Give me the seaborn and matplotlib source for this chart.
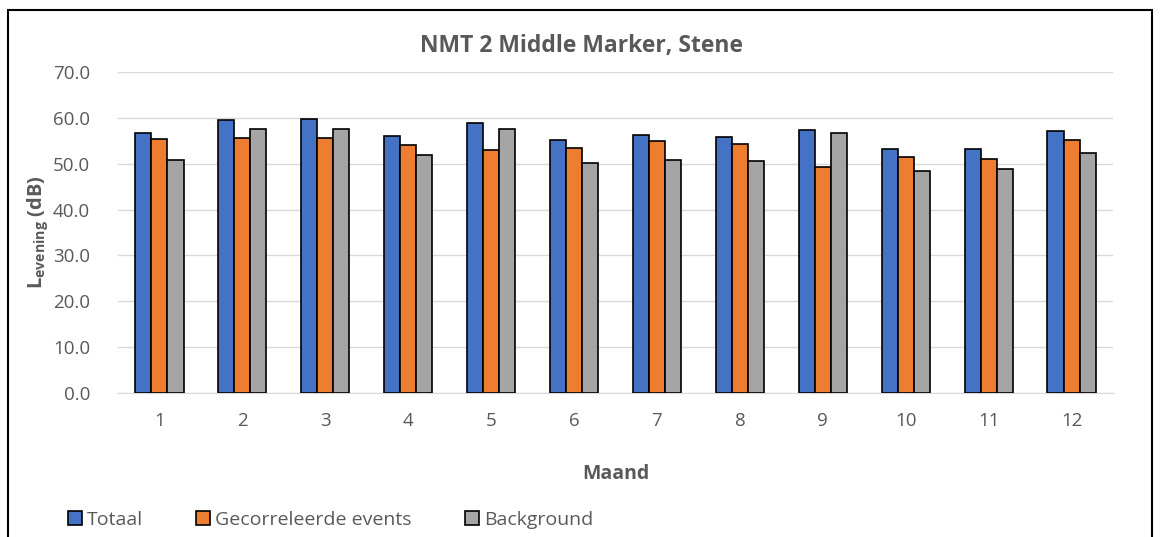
import matplotlib
matplotlib.use("Agg")
import matplotlib.pyplot as plt
from matplotlib.patches import Rectangle, Patch
import seaborn as sns
import pandas as pd

maanden = [str(m) for m in range(1, 13)]
totaal = [56.6, 59.6, 59.8, 56.1, 58.8, 55.2, 56.3, 55.9, 57.3, 53.3, 53.1, 57.1]
gecorreleerd = [55.3, 55.5, 55.7, 54.1, 53.0, 53.5, 55.0, 54.3, 49.3, 51.5, 51.1, 55.2]
background = [50.8, 57.6, 57.6, 51.9, 57.6, 50.2, 50.9, 50.5, 56.6, 48.5, 48.9, 52.4]
series_names = ["Totaal", "Gecorreleerde events", "Background"]
colors = ["#4472C4", "#ED7D31", "#A5A5A5"]

df = pd.DataFrame({
    "Maand": maanden * 3,
    "waarde": totaal + gecorreleerd + background,
    "serie": [s for s in series_names for _ in maanden],
})

sns.set_style("white")
font = "Open Sans"
plt.rcParams["font.family"] = [font, "DejaVu Sans"]
plt.rcParams["mathtext.fontset"] = "custom"
plt.rcParams["mathtext.rm"] = font
plt.rcParams["mathtext.bf"] = f"{font}:bold"
text_col = "#595959"

fig = plt.figure(figsize=(11.6, 5.37), dpi=100)
ax = fig.add_axes([118 / 1160, 1 - 393 / 537, (1113 - 118) / 1160, (393 - 72) / 537])

sns.barplot(data=df, x="Maand", y="waarde", hue="serie", palette=colors,
            saturation=1, edgecolor="black", linewidth=1.2, width=0.58, gap=0,
            ax=ax, legend=False, zorder=3)

ax.set_ylim(0, 70)
ax.set_yticks(range(0, 71, 10))
ax.set_yticklabels([f"{v:.1f}" for v in range(0, 71, 10)])
ax.grid(axis="y", color="#D9D9D9", linewidth=1, zorder=0)
ax.set_axisbelow(True)
for side in ["top", "right", "left"]:
    ax.spines[side].set_visible(False)
ax.spines["bottom"].set_color("#D9D9D9")
ax.tick_params(axis="both", length=0, labelsize=13.5, colors=text_col)
ax.tick_params(axis="x", pad=14)
ax.tick_params(axis="y", pad=20)

ax.set_xlabel("Maand", fontsize=14, fontweight="bold", color=text_col, labelpad=24)
ax.set_ylabel(r"$\mathbf{L_{evening}}$ (dB)", fontsize=14.5, fontweight="bold",
              color=text_col, labelpad=2)

fig.text(582 / 1160, 1 - 46 / 537, "NMT 2 Middle Marker, Stene", ha="center", va="center",
         fontsize=16.5, fontweight="bold", color=text_col)

handles = [Patch(facecolor=c, edgecolor="black", linewidth=1.2) for c in colors]
fig.legend(handles, series_names, loc="center left", bbox_to_anchor=(58 / 1160, 1 - 520 / 537),
           ncol=3, frameon=False, fontsize=14, labelcolor=text_col, handlelength=0.72,
           handleheight=0.72, handletextpad=0.25, columnspacing=2.75, borderpad=0)

fig.patches.append(Rectangle((8 / 1160, -0.05), (1152 - 8) / 1160, 1.05 - 10 / 537,
                             transform=fig.transFigure, fill=False, edgecolor="black",
                             linewidth=1.5))

fig.savefig("out.png", dpi=100)
